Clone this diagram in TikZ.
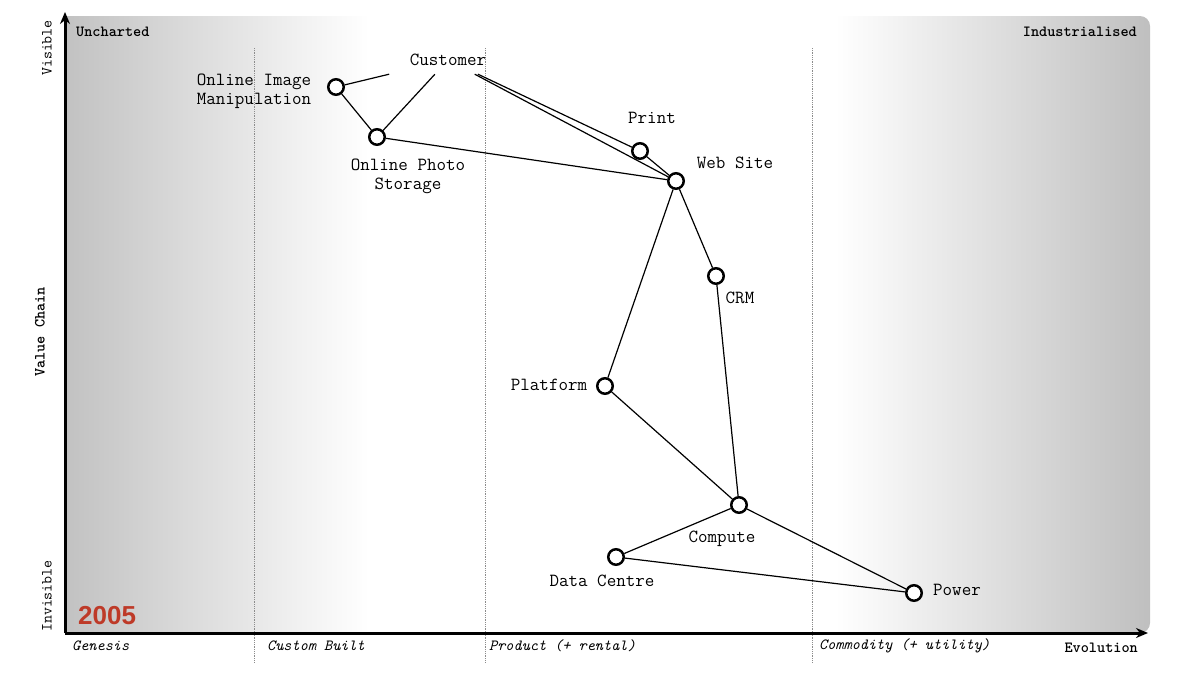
\documentclass[tikz,border=0pt]{standalone}
\usepackage{fontspec}
\newfontfamily\yearfont{Liberation Sans}
\usetikzlibrary{arrows.meta}
\definecolor{YearClr}{RGB}{190,58,40}
% the path box is mapped to 25bp..75bp of the shading
\pgfdeclarehorizontalshading{mapshade}{100bp}{color(0bp)=(black!24); color(25bp)=(black!24); color(39bp)=(white); color(60.5bp)=(white); color(75bp)=(black!25); color(100bp)=(black!25)}

\tikzset{
  comp/.style={circle, draw, fill=white, line width=2.5pt, minimum size=15.5pt, inner sep=0pt},
  lbl/.style={font=\ttfamily\fontsize{18.5}{19}\selectfont, align=center, inner sep=0pt},
  axlbl/.style={font=\ttfamily\fontsize{15.5}{16}\selectfont, inner sep=0pt},
  link/.style={line width=1.2pt},
  stage/.style={densely dotted, black!45, line width=0.8pt},
  axis/.style={line width=3pt, -{Stealth[length=12pt,width=10pt]}},
}

\begin{document}
\begin{tikzpicture}[x=1pt,y=-1pt]
\useasboundingbox (0,0) rectangle (1200,675);

% Background of the map.
\shade[shading=mapshade] (65,633) -- (65,16) {[rounded corners=10] -- (1150,16) -- (1150,633)} -- cycle;

% Stages of evolution.
\draw[stage] (254,48) -- (254,662);
\draw[stage] (485,48) -- (485,662);
\draw[stage] (812,48) -- (812,662);

% Axes.
\coordinate (O) at (65,633);
\coordinate (ytip) at (65,12);
\coordinate (xtip) at (1148,633);
\draw[axis] (O) -- (ytip);
\draw[axis] (O) -- (xtip);

\node[axlbl, font=\ttfamily\fontsize{15.5}{16}\selectfont\bfseries, anchor=west] (unch) at (76,32) {Uncharted};
\node[axlbl, font=\ttfamily\fontsize{15.5}{16}\selectfont\bfseries, anchor=east] (indu) at (1137,32) {Industrialised};
\node[axlbl, rotate=90] (vis) at (47,48) {Visible};
\node[axlbl, rotate=90] (invis) at (47,596) {Invisible};
\node[axlbl, font=\ttfamily\fontsize{15.5}{16}\selectfont\bfseries, rotate=90] (vchain) at (40,332) {Value Chain};

\node[axlbl, font=\ttfamily\fontsize{15.5}{16}\selectfont\itshape, anchor=west] (gen) at (72,646) {Genesis};
\node[axlbl, font=\ttfamily\fontsize{15.5}{16}\selectfont\itshape, anchor=west] (cust) at (267,646) {Custom Built};
\node[axlbl, font=\ttfamily\fontsize{15.5}{16}\selectfont\itshape, anchor=west] (prod) at (489,646) {Product (+ rental)};
\node[axlbl, font=\ttfamily\fontsize{15.5}{16}\selectfont\itshape, anchor=west] (comm) at (819,646) {Commodity (+ utility)};
\node[axlbl, font=\ttfamily\fontsize{15.5}{16}\selectfont\bfseries, anchor=east] (evol) at (1138,648) {Evolution};

\node[font=\yearfont\fontsize{26}{30}\selectfont\bfseries, text=YearClr, anchor=west, inner sep=0pt] (year) at (78,616) {2005};

% Components.
\node[lbl, minimum width=120pt, minimum height=28pt] (customer) at (448,60) {Customer};
\node[comp] (oim) at (336,87) {};
\node[comp] (ops) at (377,137) {};
\node[comp] (print) at (640,151) {};
\node[comp] (web) at (676,181) {};
\node[comp] (crm) at (716,276) {};
\node[comp] (plat) at (605,386) {};
\node[comp] (comp) at (739,505) {};
\node[comp] (dc) at (616,557) {};
\node[comp] (power) at (914,593) {};

% Links.
\draw[link] (customer) -- (oim);
\draw[link] (customer) -- (ops);
\draw[link] (customer) -- (print);
\draw[link] (customer) -- (web);
\draw[link] (oim) -- (ops);
\draw[link] (ops) -- (web);
\draw[link] (print) -- (web);
\draw[link] (web) -- (crm);
\draw[link] (web) -- (plat);
\draw[link] (crm) -- (comp);
\draw[link] (plat) -- (comp);
\draw[link] (comp) -- (dc);
\draw[link] (comp) -- (power);
\draw[link] (dc) -- (power);

% Labels.
\node[lbl, align=right] (oimlbl) at (254,91) {Online Image\\Manipulation};
\node[lbl] (opslbl) at (408,176) {Online Photo\\Storage};
\node[lbl] (printlbl) at (652,118) {Print};
\node[lbl] (weblbl) at (735,163) {Web Site};
\node[lbl] (crmlbl) at (740,298) {CRM};
\node[lbl] (platlbl) at (549,385) {Platform};
\node[lbl] (complbl) at (722,539) {Compute};
\node[lbl] (dclbl) at (602,581) {Data Centre};
\node[lbl] (powerlbl) at (957,590) {Power};

\end{tikzpicture}
\end{document}
